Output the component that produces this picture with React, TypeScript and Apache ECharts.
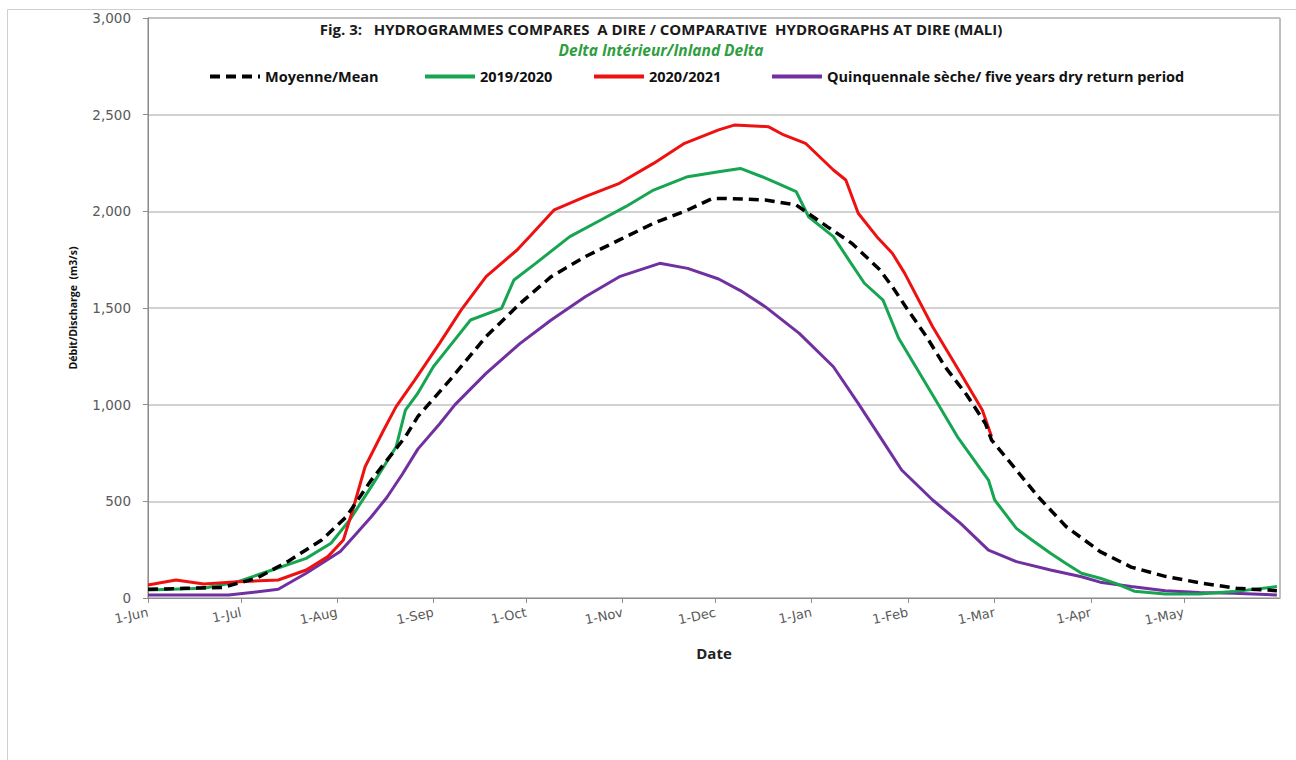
import React, { useEffect, useRef } from "react";
import * as echarts from "echarts";

// Day offsets from 1-Jun for month starts (x-axis ticks)
const monthStartDays = [0, 30, 61, 92, 122, 153, 183, 214, 245, 273, 304, 334];
const monthLabels = ["1-Jun", "1-Jul", "1-Aug", "1-Sep", "1-Oct", "1-Nov", "1-Dec", "1-Jan", "1-Feb", "1-Mar", "1-Apr", "1-May"];

const yTicks = [0, 500, 1000, 1500, 2000, 2500, 3000];

// Moyenne / Mean
const meanDays = [0, 12, 24, 35, 45, 56, 64, 72, 83, 87, 98, 109, 120, 130, 141, 152, 163, 174, 182, 186, 199, 209, 219, 227, 236, 240, 245, 251, 257, 264, 270, 272, 280, 287, 296, 307, 317, 328, 340, 351, 364];
const meanValues = [45, 50, 55, 102, 188, 300, 421, 610, 834, 938, 1140, 1352, 1524, 1662, 1766, 1852, 1938, 2007, 2067, 2067, 2059, 2033, 1921, 1834, 1697, 1610, 1490, 1352, 1196, 1050, 903, 817, 662, 524, 370, 240, 160, 112, 76, 50, 38];

// 2019/2020
const y2019Days = [0, 18, 29, 40, 51, 59, 65, 72, 80, 83, 87, 92, 98, 104, 114, 118, 125, 136, 146, 154, 163, 174, 184, 191, 198, 203, 209, 213, 221, 226, 231, 237, 242, 253, 261, 271, 273, 280, 285, 291, 296, 301, 307, 312, 318, 328, 339, 350, 364];
const y2019Values = [41, 50, 84, 145, 205, 283, 403, 576, 782, 972, 1059, 1196, 1317, 1438, 1498, 1645, 1731, 1869, 1955, 2024, 2110, 2179, 2205, 2222, 2179, 2145, 2102, 1972, 1869, 1748, 1628, 1541, 1345, 1050, 834, 610, 507, 360, 300, 231, 179, 128, 102, 76, 35, 21, 21, 33, 59];

// 2020/2021
const y2020Days = [0, 9, 18, 29, 42, 51, 58, 63, 66, 70, 76, 80, 86, 94, 101, 109, 119, 123, 131, 141, 152, 163, 173, 184, 189, 200, 205, 212, 221, 225, 229, 235, 240, 244, 253, 262, 269, 272];
const y2020Values = [67, 93, 72, 84, 93, 145, 214, 300, 455, 679, 869, 990, 1127, 1317, 1490, 1662, 1800, 1869, 2008, 2076, 2145, 2248, 2352, 2421, 2446, 2438, 2395, 2352, 2214, 2162, 1990, 1869, 1783, 1679, 1403, 1162, 972, 835];

// Quinquennale sèche / five years dry return period
const dryDays = [0, 26, 42, 51, 62, 67, 72, 77, 82, 87, 94, 99, 109, 120, 130, 141, 152, 165, 174, 184, 191, 199, 210, 221, 229, 237, 243, 253, 262, 271, 280, 291, 301, 307, 317, 328, 339, 350, 364];
const dryValues = [15, 15, 45, 128, 240, 330, 420, 520, 640, 770, 900, 1000, 1162, 1317, 1438, 1558, 1662, 1731, 1705, 1650, 1590, 1507, 1369, 1196, 1007, 810, 662, 507, 386, 248, 188, 145, 110, 82, 59, 38, 28, 24, 16];

const seriesNames = ["Moyenne/Mean", "2019/2020", "2020/2021", "Quinquennale sèche/ five years dry return period"];

const FONT = "'Open Sans', 'Liberation Sans', sans-serif";
const TICKFONT = "'DejaVu Sans', 'Open Sans', sans-serif";

function pairs(days: number[], vals: number[]) {
  return days.map((d, i) => [d, vals[i]]);
}

export default function App() {
  const ref = useRef<HTMLDivElement>(null);

  useEffect(() => {
    document.body.style.margin = "0";
    if (!ref.current) return;
    const chart = echarts.init(ref.current, null, { renderer: "svg" });

    const legendBase = {
      top: 69,
      padding: 0,
      itemWidth: 50,
      itemHeight: 14,
      itemGap: 4,
      itemStyle: { opacity: 0 },
      lineStyle: { width: 4 },
      textStyle: { fontFamily: FONT, fontWeight: "bold" as const, fontSize: 14.5, color: "#111" },
    };

    chart.setOption({
      animation: false,
      backgroundColor: "#ffffff",
      textStyle: { fontFamily: FONT },
      grid: {
        left: 148,
        top: 18,
        right: 16,
        bottom: 162,
        show: true,
        borderColor: "#7f7f7f",
        borderWidth: 1,
      },
      graphic: [
        {
          type: "rect",
          shape: { x: 7.5, y: 9.5, width: 1400, height: 900 },
          style: { fill: "none", stroke: "#cfcfcf", lineWidth: 1 },
          silent: true,
        },
        {
          type: "text",
          x: 661,
          y: 29,
          style: {
            text: "Fig. 3:   HYDROGRAMMES COMPARES  A DIRE / COMPARATIVE  HYDROGRAPHS AT DIRE (MALI)",
            fontFamily: FONT,
            fontWeight: "bold",
            fontSize: 15,
            fill: "#1a1a1a",
            textAlign: "center",
            textVerticalAlign: "middle",
          },
        },
        {
          type: "text",
          x: 661,
          y: 50,
          style: {
            text: "Delta Intérieur/Inland Delta",
            fontFamily: FONT,
            fontWeight: "bold",
            fontStyle: "italic",
            fontSize: 15.5,
            fill: "#2f9e3f",
            textAlign: "center",
            textVerticalAlign: "middle",
          },
        },
      ],
      legend: [
        { ...legendBase, left: 208, data: [seriesNames[0]] },
        { ...legendBase, left: 423, data: [seriesNames[1]] },
        { ...legendBase, left: 592, data: [seriesNames[2]] },
        { ...legendBase, left: 770, data: [seriesNames[3]] },
      ],
      xAxis: {
        type: "value",
        min: 0,
        max: 365,
        name: "Date",
        nameLocation: "middle",
        nameGap: 47,
        nameTextStyle: { fontFamily: FONT, fontWeight: "bold", fontSize: 15, color: "#222" },
        axisLine: { show: true, lineStyle: { color: "#8c8c8c", width: 1 } },
        axisTick: { show: true, length: 5, customValues: monthStartDays, lineStyle: { color: "#8c8c8c" } },
        axisLabel: {
          customValues: monthStartDays,
          rotate: 12,
          margin: 14,
          fontSize: 13,
          color: "#595959",
          fontFamily: TICKFONT,
          formatter: (v: number) => {
            const i = monthStartDays.indexOf(Math.round(v));
            return i >= 0 ? monthLabels[i] : "";
          },
        },
        splitLine: { show: false },
      },
      yAxis: {
        type: "value",
        min: 0,
        max: 3000,
        interval: 500,
        name: "Débit/Discharge  (m3/s)",
        nameLocation: "middle",
        nameGap: 70,
        nameTextStyle: { fontFamily: FONT, fontWeight: "bold", fontSize: 10.5, color: "#111" },
        axisLine: { show: true, lineStyle: { color: "#8c8c8c", width: 1 } },
        axisTick: { show: true, length: 5, lineStyle: { color: "#8c8c8c" } },
        axisLabel: {
          margin: 17,
          fontSize: 13.5,
          color: "#595959",
          fontFamily: TICKFONT,
          formatter: (v: number) => (yTicks.includes(v) ? v.toLocaleString("en-US") : ""),
        },
        splitLine: { show: true, lineStyle: { color: "#c3c3c3", width: 1.5 } },
      },
      series: [
        {
          name: seriesNames[0],
          type: "line",
          data: pairs(meanDays, meanValues),
          showSymbol: false,
          symbol: "none",
          z: 5,
          lineStyle: { color: "#000000", width: 3.5, type: [10, 6] },
          itemStyle: { color: "#000000" },
        },
        {
          name: seriesNames[1],
          type: "line",
          data: pairs(y2019Days, y2019Values),
          showSymbol: false,
          symbol: "none",
          z: 3,
          lineStyle: { color: "#17a552", width: 3 },
          itemStyle: { color: "#17a552" },
        },
        {
          name: seriesNames[2],
          type: "line",
          data: pairs(y2020Days, y2020Values),
          showSymbol: false,
          symbol: "none",
          z: 4,
          lineStyle: { color: "#ee1111", width: 3 },
          itemStyle: { color: "#ee1111" },
        },
        {
          name: seriesNames[3],
          type: "line",
          data: pairs(dryDays, dryValues),
          showSymbol: false,
          symbol: "none",
          z: 2,
          lineStyle: { color: "#7030a0", width: 3 },
          itemStyle: { color: "#7030a0" },
        },
      ],
    });

    return () => chart.dispose();
  }, []);

  return <div ref={ref} style={{ width: 1296, height: 760 }} />;
}
